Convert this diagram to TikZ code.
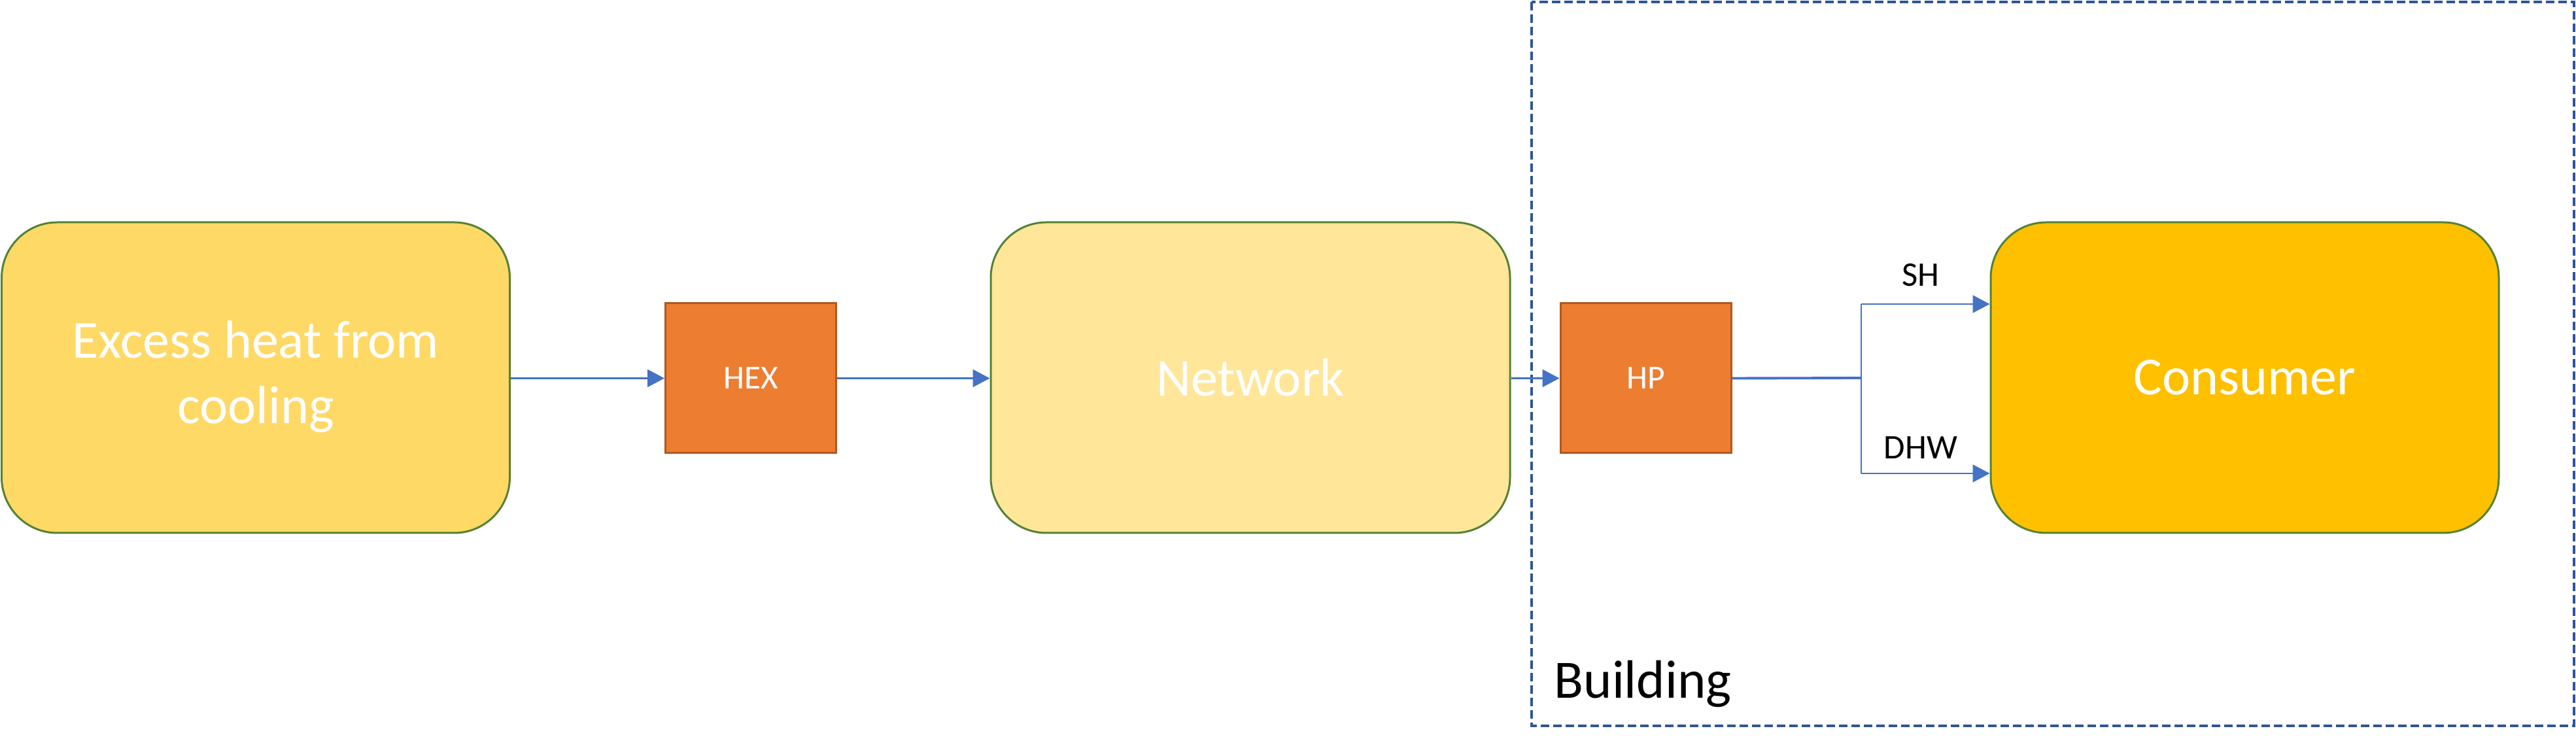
\documentclass[tikz,border=0pt]{standalone}
\usepackage{fontspec}
\setmainfont{Carlito}
\usetikzlibrary{arrows.meta}
\definecolor{boxgreen}{HTML}{548235}
\definecolor{srcfill}{HTML}{FFD966}
\definecolor{netfill}{HTML}{FFE699}
\definecolor{consfill}{HTML}{FFC000}
\definecolor{unitfill}{HTML}{ED7D31}
\definecolor{unitline}{HTML}{AE5A21}
\definecolor{flowblue}{HTML}{4472C4}
\definecolor{bldblue}{HTML}{2F5597}
\begin{document}
\begin{tikzpicture}
		\tikzstyle{every node}+=[inner sep=0pt]
		\tikzstyle{bigbox}=[draw=boxgreen, line width=0.85pt, rounded corners=0.85cm, minimum width=7.77cm, minimum height=4.75cm, text=white, align=center, font=\fontsize{23.3}{28.4}\selectfont]
		\tikzstyle{unit}=[draw=unitline, fill=unitfill, line width=0.85pt, minimum width=2.61cm, minimum height=2.29cm, text=white, font=\fontsize{14.6}{17.8}\selectfont]
		\tikzstyle{flow}=[draw=flowblue, line width=0.6pt, -{Triangle[length=0.26cm, width=0.27cm]}]
		\tikzstyle{lbl}=[font=\fontsize{15}{18}\selectfont]
		\useasboundingbox (0,0) rectangle (39.39,-11.5);
		\draw [bldblue, line width=1.3pt, dash pattern=on 0.13cm off 0.06cm] (23.42,-0.03) rectangle (39.36,-11.1);
		\node [anchor=base west, font=\fontsize{23.5}{28.6}\selectfont] (bld) at (23.76,-10.68) {Building};
		\node [bigbox, fill=srcfill] (src) at (3.91,-5.775) {\begin{tabular}{@{}c@{}}Excess heat from\\cooling\end{tabular}};
		\node [unit] (hex) at (11.48,-5.785) {HEX};
		\node [bigbox, fill=netfill, minimum width=7.94cm] (net) at (19.12,-5.775) {Network};
		\node [unit] (hp) at (25.165,-5.785) {HP};
		\node [bigbox, fill=consfill] (cons) at (34.325,-5.775) {Consumer};
		\coordinate (split) at (28.46,-5.78);
		\coordinate (sh) at (28.46,-4.65);
		\coordinate (dhw) at (28.46,-7.24);
		\draw [flow] (src.east |- hex.west) -- (hex.west);
		\draw [flow] (hex.east) -- (hex.east -| net.west);
		\draw [flow] (net.east |- hp.west) -- (hp.west);
		\draw [flowblue, line width=1.1pt] (hp.east) -- (split);
		\draw [flowblue, line width=0.6pt] (split) -- (sh);
		\draw [flowblue, line width=0.6pt] (split) -- (dhw);
		\draw [flow] (sh) -- (sh -| cons.west);
		\draw [flow] (dhw) -- (dhw -| cons.west);
		\node [lbl] (shlbl) at (29.37,-4.21) {SH};
		\node [lbl] (dhwlbl) at (29.37,-6.85) {DHW};
	\end{tikzpicture}
\end{document}
